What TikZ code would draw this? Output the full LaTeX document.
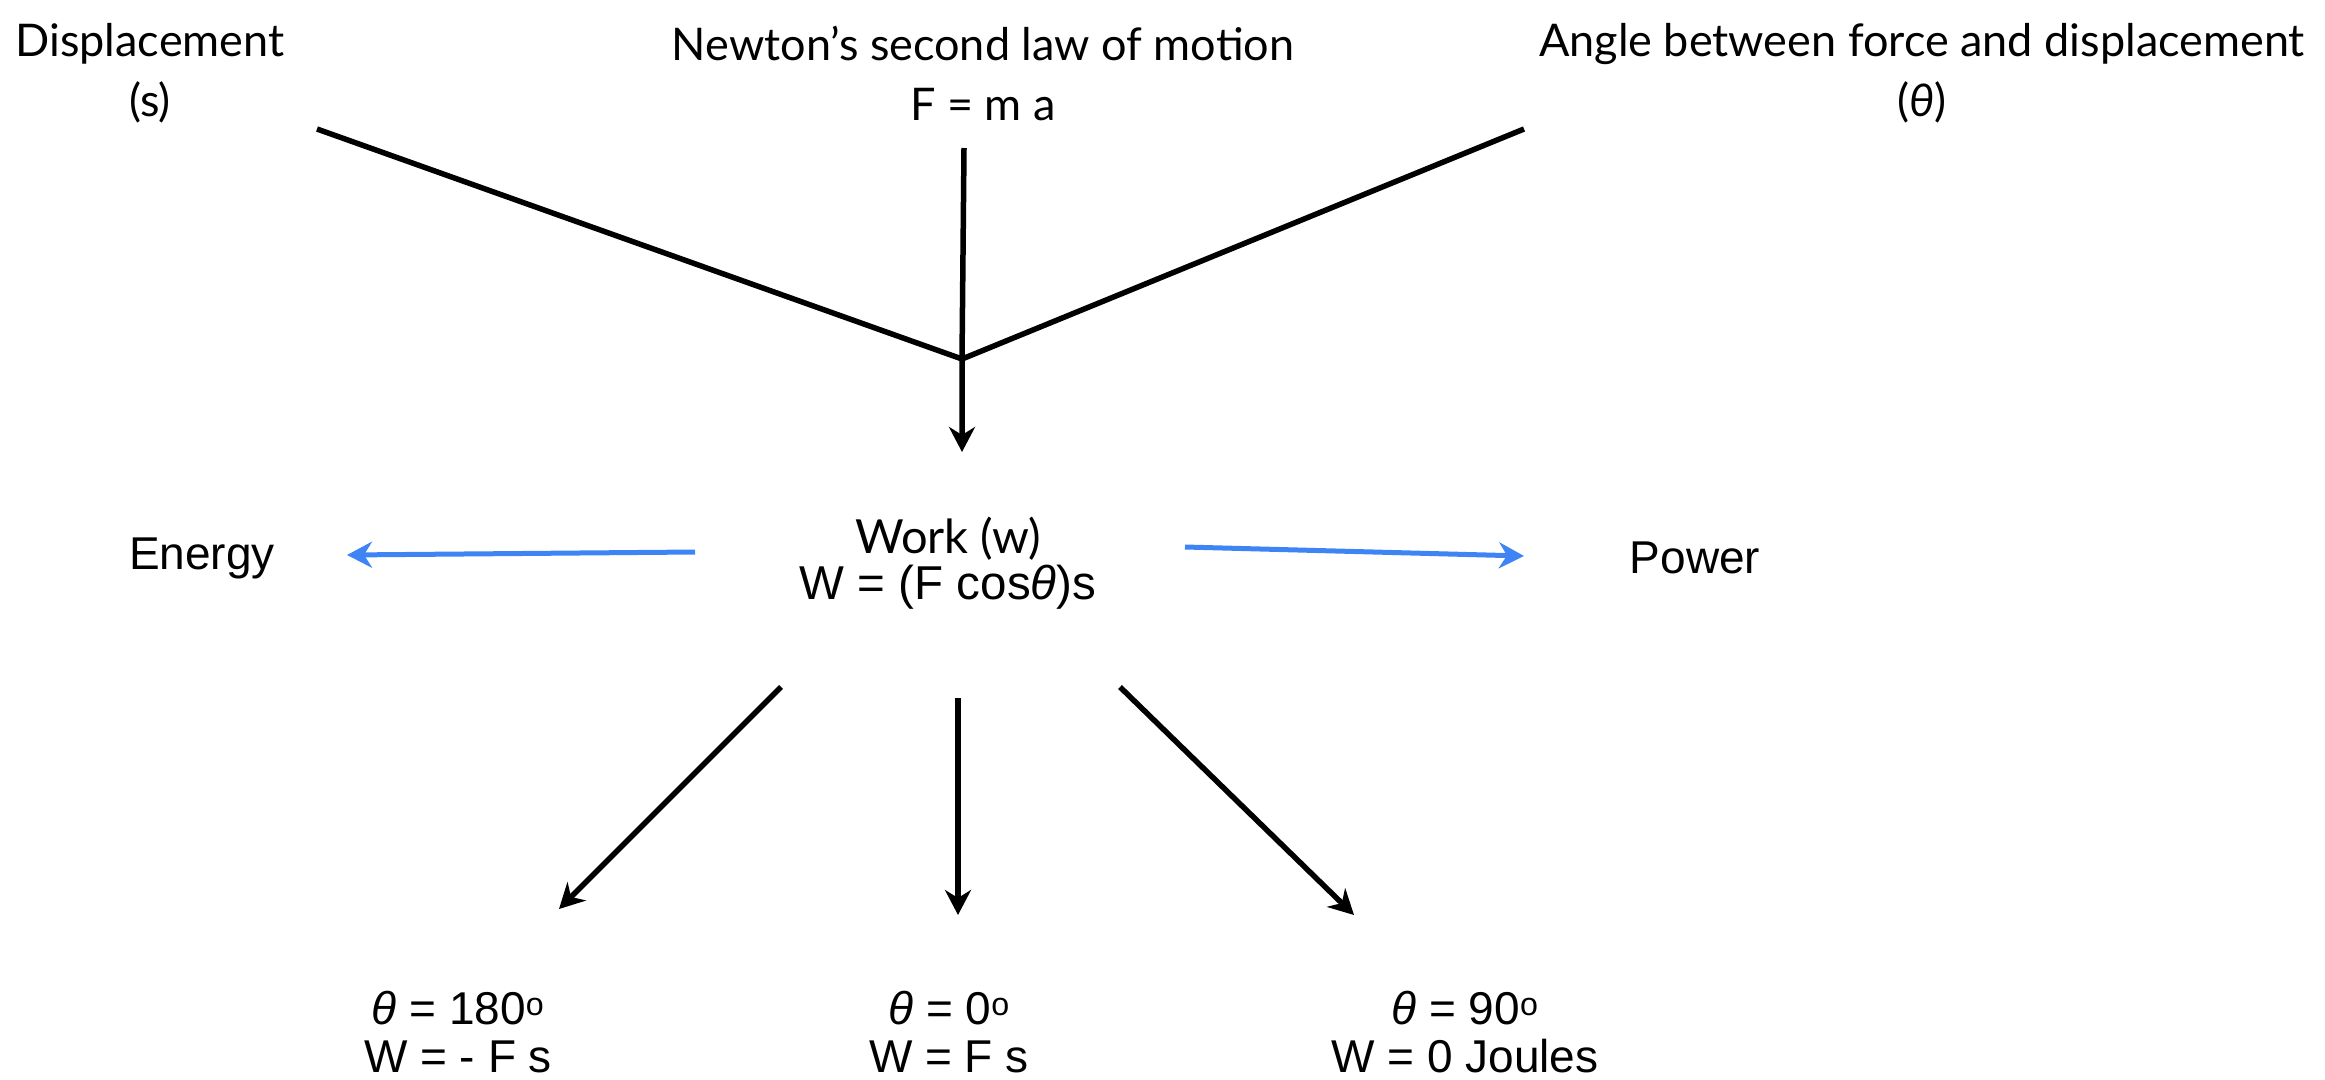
\documentclass[tikz,border=0pt]{standalone}
\usepackage{fontspec}
\setmainfont{Liberation Sans}
\newfontfamily\gill{Lato}
\usetikzlibrary{arrows.meta}
\definecolor{myblue}{RGB}{62,132,245}
\begin{document}
\begin{tikzpicture}[x=1pt,y=-1pt,
  toplab/.style={font=\gill\fontsize{45}{60}\selectfont, align=center, inner sep=0pt},
  hlab/.style={font=\fontsize{46}{48}\selectfont, align=center, inner sep=0pt},
  blk/.style={line width=5.5pt, black},
  tip/.style={-{Stealth[length=25pt,width=26pt,inset=8pt]}},
  blkarrow/.style={blk, tip},
  bluearrow/.style={line width=5pt, myblue, tip}]
\useasboundingbox (0,0) rectangle (2325,1079);
% labels
\node[toplab] (disp) at (150,73) {Displacement\\(s)};
\node[toplab] (newton) at (983,73) {Newton’s second law of motion\\F = m a};
\node[toplab] (angle) at (1922,73) {Angle between force and displacement\\({\itshape θ})};
\node[hlab, font=\fontsize{47.5}{46}\selectfont] (work) at (948,563) {{\gill\fontsize{47}{46}\selectfont Work (w)}\\W = (F cos{\itshape θ})s};
\node[hlab] (energy) at (202,558) {Energy};
\node[hlab] (power) at (1695,558) {Power};
\node[hlab] (b1) at (458,1032) {{\itshape θ} = 180\textsuperscript{o}\\W = - F s};
\node[hlab] (b2) at (949,1032) {{\itshape θ} = 0\textsuperscript{o}\\W = F s};
\node[hlab] (b3) at (1465,1032) {{\itshape θ} = 90\textsuperscript{o}\\W = 0 Joules};
% connector points
\coordinate (dS) at (317,129);
\coordinate (nS) at (964,148);
\coordinate (aS) at (1524,129);
\coordinate (J) at (962,359);
\coordinate (wT) at (962,452);
\coordinate (eS) at (695,552);
\coordinate (eE) at (347,555);
\coordinate (pS) at (1185,547);
\coordinate (pE) at (1524,556);
\coordinate (b1S) at (781,687);
\coordinate (b1E) at (559,909);
\coordinate (b2S) at (958,698);
\coordinate (b2E) at (958,915);
\coordinate (b3S) at (1120,687);
\coordinate (b3E) at (1354,915);
% connectors
\draw[blk, line join=miter] (dS) -- (J) -- (aS);
\draw[blkarrow] (nS) -- (J) -- (wT);
\draw[bluearrow] (eS) -- (eE);
\draw[bluearrow] (pS) -- (pE);
\draw[blkarrow] (b1S) -- (b1E);
\draw[blkarrow] (b2S) -- (b2E);
\draw[blkarrow] (b3S) -- (b3E);
\end{tikzpicture}
\end{document}
